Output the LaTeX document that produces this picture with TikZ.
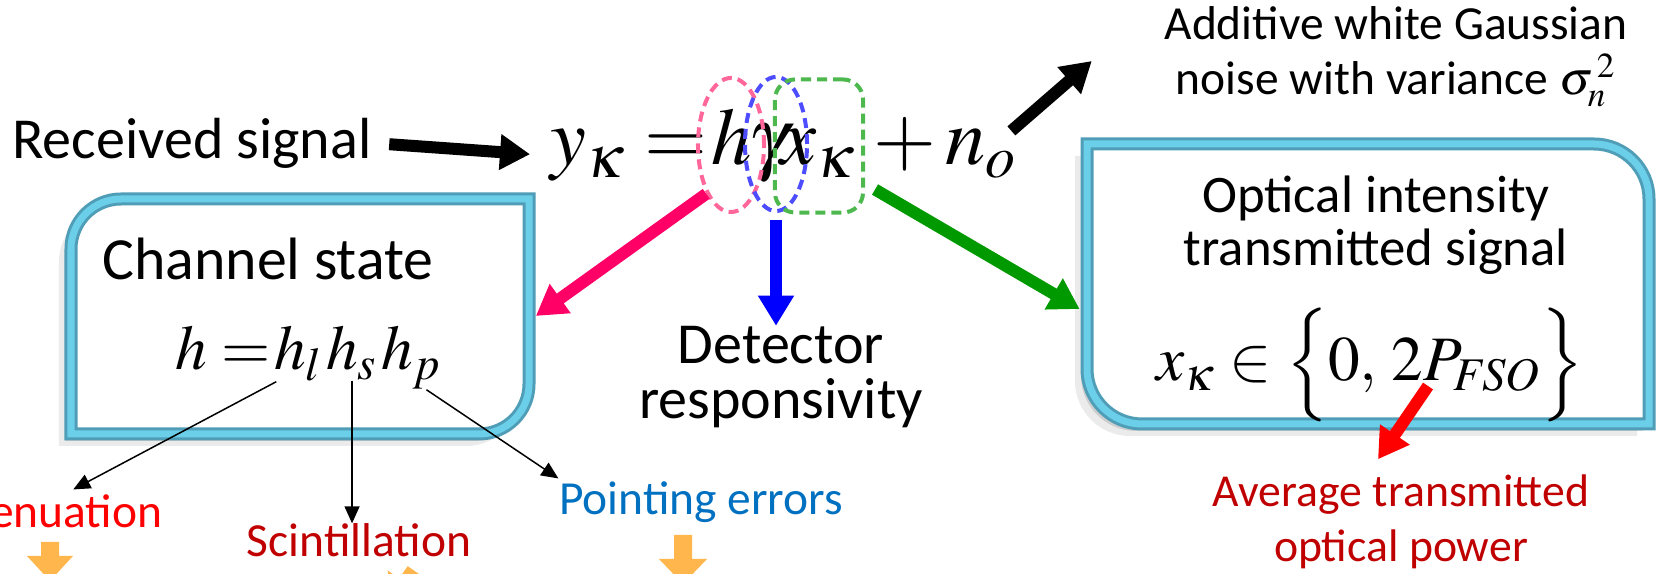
\documentclass[tikz,border=0pt]{standalone}
\usepackage{mathptmx}
\usepackage[no-math]{fontspec}
\setmainfont{Carlito}
\usepackage{tikz}
\usetikzlibrary{shapes.geometric,arrows.meta,positioning,calc}

\definecolor{framelight}{HTML}{6CCFEA}
\definecolor{framedark}{HTML}{4F9DB6}
\definecolor{hpink}{HTML}{FF0066}
\definecolor{hpinkdash}{HTML}{FF6699}
\definecolor{gblue}{HTML}{0000FF}
\definecolor{gbluedash}{HTML}{4D4DFF}
\definecolor{xgreen}{HTML}{009900}
\definecolor{xgreendash}{HTML}{4DB84D}
\definecolor{attred}{HTML}{FF0000}
\definecolor{scired}{HTML}{C00000}
\definecolor{pointblue}{HTML}{0070C0}
\definecolor{blockorange}{HTML}{FFB74D}

\tikzset{
  big text/.style={font=\fontsize{16.5}{15.5}\selectfont, align=center, inner sep=0pt},
  small text/.style={font=\fontsize{13.5}{15.6}\selectfont, align=center, inner sep=0pt},
  eq big/.style={font=\fontsize{23}{28}\selectfont, inner sep=0pt},
  eq box/.style={font=\fontsize{18}{22}\selectfont, inner sep=0pt},
  ring/.style={ellipse, draw=#1, dash pattern=on 0.1cm off 0.06cm, line width=0.04cm, minimum width=0.66cm, minimum height=1.34cm, inner sep=0pt},
  fat arrow/.style={draw=#1, line width=0.12cm, -{Triangle[length=0.3cm,width=0.34cm]}},
  thin arrow/.style={draw=black, line width=0.015cm, -{Triangle[length=0.17cm,width=0.15cm]}},
  panel/.style={rectangle, inner sep=0pt},
  panel frame/.style={fill=white, draw=framedark, line width=0.13cm,
    preaction={fill=black, fill opacity=0.08, draw=none, transform canvas={shift={(-0.12cm,-0.12cm)}}},
    preaction={fill=black, fill opacity=0.12, draw=none, transform canvas={shift={(-0.06cm,-0.07cm)}}},
    postaction={draw=framelight, line width=0.07cm}}
}

\begin{document}
\begin{tikzpicture}[x=0.01cm, y=-0.01cm]
    \useasboundingbox (0,0) rectangle (1660,574);
    \clip (0,0) rectangle (1660,574);

    % Boxes
    \path[panel frame] (71,316) [rounded corners=0.5cm] -- (71,199) -- (300,199) [sharp corners] -- (529,199) -- (529,316) [rounded corners=0.5cm] -- (529,434) -- (300,434) [sharp corners] -- (71,434) -- cycle;
    \path[panel frame] (1087,284) -- (1087,144) -- (1368,144) [rounded corners=0.55cm] -- (1649,144) -- (1649,284) [sharp corners] -- (1649,424) -- (1368,424) [rounded corners=0.55cm] -- (1087,424) -- cycle;
    \node[panel, minimum width=4.7cm, minimum height=2.47cm] (chanbox) at (300,316) {};
    \node[panel, minimum width=5.75cm, minimum height=2.92cm] (optbox) at (1368,284) {};

    % Received signal equation
    \node[big text] (recv) at (192,143) {Received signal};
    \node[eq big, anchor=base west] (lhs) at (550,165) {$y_\kappa =$};
    \node[eq big, anchor=base west] (hh) at (711,165) {$h$};
    \node[eq big, anchor=base west] (gam) at (748,165) {$\gamma$};
    \node[eq big, anchor=base west] (xk) at (780,165) {$x_\kappa$};
    \node[eq big, anchor=base west] (rhs) at (873,165) {$+\,n_o$};

    % Dashed marks
    \node[ring=hpinkdash] (hring) at (731,145) {};
    \node[ring=gbluedash, minimum width=0.62cm] (gring) at (776,144) {};
    \node[draw=xgreendash, dash pattern=on 0.1cm off 0.06cm, line width=0.04cm, rounded corners=0.2cm, minimum width=0.88cm, minimum height=1.33cm] (xbox) at (819,146) {};

    % Noise
    \node[big text, font=\fontsize{13.5}{15.6}\selectfont] (awgn) at (1396,57) {Additive white Gaussian\\noise with variance $\sigma_n^{\,2}$};

    % Box contents
    \node[big text, font=\fontsize{17}{16}\selectfont] (chantitle) at (268,259) {Channel state};
    \node[eq box, anchor=base west] (heq) at (175,370) {$h =$};
    \node[eq box, base right=0.02cm of heq] (hl) {$h_l$};
    \node[eq box, base right=0.02cm of hl] (hs) {$h_s$};
    \node[eq box, base right=0.02cm of hs] (hp) {$h_p$};
    \node[big text, font=\fontsize{15}{15}\selectfont] (opttitle) at (1376,225) {Optical intensity\\transmitted signal};
    \node[eq box] (opteq) at (1370,365) {$x_\kappa \in \Bigl\{0,\, 2P_{\mathit{FSO}}\Bigr\}$};

    % Labels
    \node[big text] (det) at (781,377) {Detector\\responsivity};
    \node[small text, text=attred, anchor=base east] (att) at (163,528) {Attenuation};
    \node[small text, text=scired, anchor=base] (scint) at (359,557) {Scintillation};
    \node[small text, text=pointblue, anchor=base] (pe) at (701,515) {Pointing errors};
    \node[small text, font=\fontsize{13}{15.6}\selectfont, text=scired] (avg) at (1401,522) {Average transmitted\\optical power};

    % Connections
    \draw[fat arrow=black, shorten <=0.17cm, shorten >=0.2cm] (recv.east) -- (lhs.west);
    \draw[fat arrow=black] ([xshift=-0.07cm,yshift=0.17cm]rhs.east) -- ([xshift=-0.72cm,yshift=-0.04cm]awgn.west);
    \draw[fat arrow=hpink] (hring.south west) -- (chanbox.east);
    \draw[fat arrow=gblue, shorten <=0.07cm] (gring.south) -- (gring.south |- det.north);
    \draw[fat arrow=xgreen] ([xshift=0.1cm,yshift=0.25cm]xbox.south east) -- ([yshift=-0.25cm]optbox.west);
    \draw[fat arrow=attred] ([xshift=0.58cm,yshift=-0.21cm]opteq.center) -- ([xshift=-0.23cm,yshift=0.15cm]avg.north);
    \draw[thin arrow] ([xshift=0.03cm]hl.south west) -- ([xshift=0.25cm,yshift=0.05cm]att.north);
    \draw[thin arrow] (hs.south) -- (hs.south |- scint.north);
    \draw[thin arrow] ([xshift=0.15cm]hp.south) -- ([yshift=0.03cm]pe.north west);

    % Block arrows below the labels
    \fill[blockorange] (41,542) -- (59,542) -- (59,556) -- (73,556) -- (50,581) -- (27,556) -- (41,556) -- cycle;
    \fill[blockorange] (674,535) -- (692,535) -- (692,559) -- (707,559) -- (683,584) -- (659,559) -- (674,559) -- cycle;
    \begin{scope}[shift={(395,600)}, rotate=-35]
        \fill[blockorange] (-9,-35) -- (9,-35) -- (9,-20) -- (23,-20) -- (0,5) -- (-23,-20) -- (-9,-20) -- cycle;
    \end{scope}
\end{tikzpicture}
\end{document}
